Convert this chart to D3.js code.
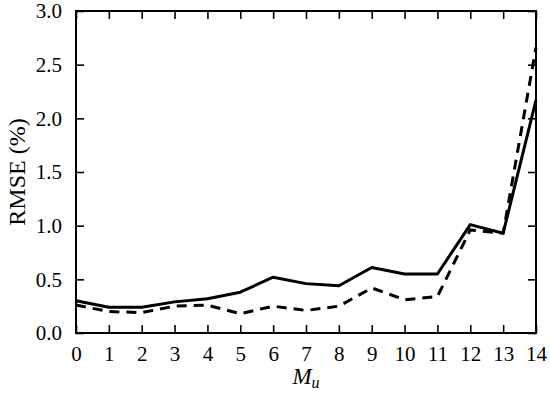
<!DOCTYPE html>
<html><head><meta charset="utf-8">
<script src="https://cdn.jsdelivr.net/npm/d3@7"></script>
<style>body{margin:0;background:#fff}svg{display:block}text{font-family:"Liberation Serif","Times New Roman",serif;fill:#000}</style>
</head><body><svg id="c" width="550" height="394"></svg>
<script>
const mu = [0,1,2,3,4,5,6,7,8,9,10,11,12,13,14];
const solid = [0.30,0.24,0.24,0.29,0.32,0.38,0.52,0.46,0.44,0.61,0.55,0.55,1.01,0.93,2.17];
const dashed = [0.26,0.20,0.19,0.25,0.26,0.18,0.25,0.21,0.25,0.42,0.31,0.34,0.96,0.93,2.66];
const yTicks = [0,0.5,1.0,1.5,2.0,2.5,3.0];

const svg = d3.select("#c");
const L=76,R=536,T=11,B=333;
const x = d3.scaleLinear().domain([0,14]).range([L,R]);
const y = d3.scaleLinear().domain([0,3]).range([B,T]);

const tl=8;
const g = svg.append("g");
g.append("g").attr("transform",`translate(0,${B})`).call(d3.axisBottom(x).tickValues(mu).tickSize(-tl).tickFormat(d3.format("d")).tickPadding(13))
  .call(a=>{a.select(".domain").remove();a.selectAll("line").attr("stroke","#000").attr("stroke-width",1.6);a.selectAll("text").attr("font-size",21).attr("font-family","Liberation Serif");});
g.append("g").attr("transform",`translate(0,${T})`).call(d3.axisTop(x).tickValues(mu).tickSize(-tl).tickFormat(""))
  .call(a=>{a.select(".domain").remove();a.selectAll("line").attr("stroke","#000").attr("stroke-width",1.6);});
g.append("g").attr("transform",`translate(${L},0)`).call(d3.axisLeft(y).tickValues(yTicks).tickSize(-tl).tickFormat(d3.format(".1f")).tickPadding(14))
  .call(a=>{a.select(".domain").remove();a.selectAll("line").attr("stroke","#000").attr("stroke-width",1.6);a.selectAll("text").attr("font-size",21).attr("font-family","Liberation Serif");});
g.append("g").attr("transform",`translate(${R},0)`).call(d3.axisRight(y).tickValues(yTicks).tickSize(-tl).tickFormat(""))
  .call(a=>{a.select(".domain").remove();a.selectAll("line").attr("stroke","#000").attr("stroke-width",1.6);});

const line = d3.line().x((d,i)=>x(mu[i])).y(d=>y(d));
svg.append("path").datum(solid).attr("d",line).attr("fill","none").attr("stroke","#000").attr("stroke-width",3).attr("stroke-linejoin","round");
svg.append("path").datum(dashed).attr("d",line).attr("fill","none").attr("stroke","#000").attr("stroke-width",3).attr("stroke-dasharray","10,7");

svg.append("rect").attr("x",L).attr("y",T).attr("width",R-L).attr("height",B-T).attr("fill","none").attr("stroke","#000").attr("stroke-width",2);

svg.append("text").attr("transform",`translate(25,${(T+B)/2}) rotate(-90)`).attr("text-anchor","middle").attr("font-size",24).text("RMSE (%)");
const xl = svg.append("text").attr("x",(L+R)/2).attr("y",384).attr("text-anchor","middle").attr("font-size",23).attr("font-style","italic");
xl.append("tspan").text("M");
xl.append("tspan").attr("font-size",16).attr("dy",4).text("u");
</script></body></html>
